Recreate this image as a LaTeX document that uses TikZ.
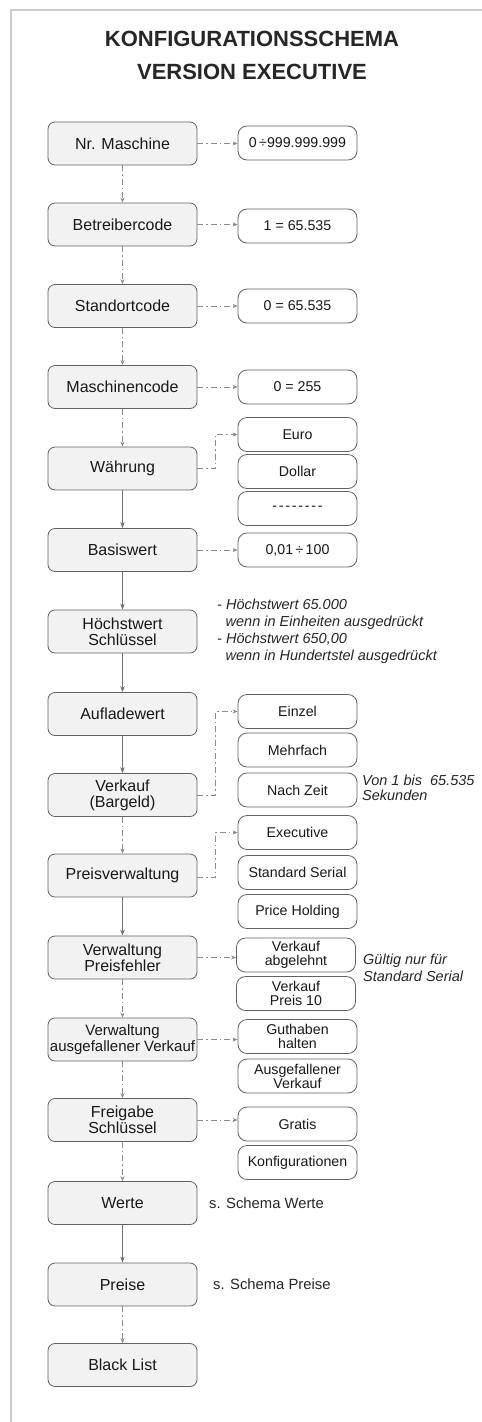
\documentclass[tikz,border=0pt]{standalone}
\usepackage{fontspec}
\setmainfont{Liberation Sans}
\usetikzlibrary{arrows.meta}
\newcommand{\hy}{-\kern1.8pt}
\begin{document}
\begin{tikzpicture}[x=1pt,y=-1pt,
  mainbox/.style={draw=black!62, line width=0.8pt, fill=black!5, rounded corners=7pt,
    minimum width=149pt, minimum height=43pt, inner sep=1pt, align=center,
    font=\fontsize{16}{16}\selectfont, text=black!90},
  optbox/.style={draw=black!62, line width=0.8pt, fill=white, rounded corners=9pt,
    minimum width=119pt, minimum height=34pt, inner sep=1pt, align=center,
    font=\fontsize{14.2}{14}\selectfont, text=black!90},
  note/.style={anchor=west, align=left, inner sep=0pt, text=black!85},
  dl/.style={draw=black!45, line width=0.8pt, dash pattern=on 6pt off 3pt on 1.5pt off 3pt,
    -{Stealth[length=5pt,width=4pt,fill=black!85]}},
  sl/.style={draw=black!55, line width=0.8pt,
    -{Stealth[length=6pt,width=4.5pt,fill=black!85]}}
]
\useasboundingbox (0,0) rectangle (482,1422);
\draw[black!20, line width=1.3pt] (11,1422) -- (11,10) -- (482,10);

\node[font=\bfseries\fontsize{22}{22}\selectfont, text=black!85] (t1) at (252,39) {KONFIGURATIONSSCHEMA};
\node[font=\bfseries\fontsize{22}{22}\selectfont, text=black!85] (t2) at (252,72) {VERSION EXECUTIVE};

% main column
\node[mainbox] (m1) at (122.5,143.5) {Nr. Maschine};
\node[mainbox] (m2) at (122.5,224.5) {Betreibercode};
\node[mainbox] (m3) at (122.5,306) {Standortcode};
\node[mainbox] (m4) at (122.5,387) {Maschinencode};
\node[mainbox] (m5) at (122.5,468.5) {Währung};
\node[mainbox] (m6) at (122.5,550) {Basiswert};
\node[mainbox] (m7) at (122.5,631.5) {Höchstwert\\Schlüssel};
\node[mainbox] (m8) at (122.5,714) {Aufladewert};
\node[mainbox] (m9) at (122.5,795) {Verkauf\\(Bargeld)};
\node[mainbox] (m10) at (122.5,875.5) {Preisverwaltung};
\node[mainbox] (m11) at (122.5,957.5) {Verwaltung\\Preisfehler};
\node[mainbox, font=\fontsize{15}{16}\selectfont, inner xsep=0pt] (m12) at (122.5,1039.5) {Verwaltung\\ausgefallener Verkauf};
\node[mainbox] (m13) at (122.5,1120) {Freigabe\\Schlüssel};
\node[mainbox] (m14) at (122.5,1203) {Werte};
\node[mainbox] (m15) at (122.5,1284.5) {Preise};
\node[mainbox] (m16) at (122.5,1365) {Black List};

% option column
\node[optbox] (o1) at (297.5,143) {0\,÷999.999.999};
\node[optbox] (o2) at (297.5,226) {1 = 65.535};
\node[optbox] (o3) at (297.5,306) {0 = 65.535};
\node[optbox] (o4) at (297.5,387) {0 = 255};
\node[optbox] (o5a) at (297.5,434.5) {Euro};
\node[optbox] (o5b) at (297.5,471.5) {Dollar};
\node[optbox] (o5c) at (297.5,508.5) {\hy\hy\hy\hy\hy\hy\hy-};
\node[optbox] (o6) at (297.5,550) {0,01\,÷\,100};
\node[optbox] (o9a) at (297.5,711.5) {Einzel};
\node[optbox] (o9b) at (297.5,750) {Mehrfach};
\node[optbox] (o9c) at (297.5,790) {Nach Zeit};
\node[optbox] (o10a) at (297.5,832.5) {Executive};
\node[optbox] (o10b) at (297.5,872.5) {Standard Serial};
\node[optbox] (o10c) at (297.5,911.5) {Price Holding};
\node[optbox] (o11a) at (296,955) {Verkauf\\abgelehnt};
\node[optbox] (o11b) at (296,993.5) {Verkauf\\Preis 10};
\node[optbox] (o12a) at (297.5,1036.5) {Guthaben\\halten};
\node[optbox] (o12b) at (297.5,1076) {Ausgefallener\\Verkauf};
\node[optbox] (o13a) at (297.5,1124) {Gratis};
\node[optbox] (o13b) at (297.5,1162.5) {Konfigurationen};

% notes
\node[note, font=\itshape\fontsize{14.5}{17}\selectfont] (n7) at (217,631.5)
  {- Höchstwert 65.000\\\hspace*{8.5pt}wenn in Einheiten ausgedrückt\\- Höchstwert 650,00\\\hspace*{8.5pt}wenn in Hundertstel ausgedrückt};
\node[note, font=\itshape\fontsize{14.5}{14.5}\selectfont] (n9) at (362,788) {Von 1 bis\ \ 65.535\\Sekunden};
\node[note, font=\itshape\fontsize{14.5}{16.5}\selectfont] (n11) at (363,968) {Gültig nur für\\Standard Serial};
\node[note, font=\fontsize{14.8}{16}\selectfont] (n14) at (209,1203) {s. Schema Werte};
\node[note, font=\fontsize{14.8}{16}\selectfont] (n15) at (213,1284) {s. Schema Preise};

% vertical connectors
\draw[dl] (m1.south) -- (m2.north);
\draw[dl] (m2.south) -- (m3.north);
\draw[dl] (m3.south) -- (m4.north);
\draw[dl] (m4.south) -- (m5.north);
\draw[sl] (m5.south) -- (m6.north);
\draw[sl] (m6.south) -- (m7.north);
\draw[sl] (m7.south) -- (m8.north);
\draw[sl] (m8.south) -- (m9.north);
\draw[dl] (m9.south) -- (m10.north);
\draw[sl] (m10.south) -- (m11.north);
\draw[dl] (m11.south) -- (m12.north);
\draw[dl] (m12.south) -- (m13.north);
\draw[dl] (m13.south) -- (m14.north);
\draw[sl] (m14.south) -- (m15.north);
\draw[dl] (m15.south) -- (m16.north);

% horizontal connectors
\draw[dl] (m1.east) -- (m1.east -| o1.west);
\draw[dl] (m2.east) -- (m2.east -| o2.west);
\draw[dl] (m3.east) -- (m3.east -| o3.west);
\draw[dl] (m4.east) -- (m4.east -| o4.west);
\draw[dl] (m6.east) -- (m6.east -| o6.west);
\draw[dl] (m11.east) -- (m11.east -| o11a.west);
\draw[dl] (m12.east) -- (m12.east -| o12a.west);
\draw[dl] (m13.east) -- (m13.east -| o13a.west);

% elbow connectors
\draw[dl] (m5.east) -- ++(18,0) |- (o5a.west);
\draw[dl] (m9.east) -- ++(18,0) |- (o9a.west);
\draw[dl] ([yshift=-2pt]m10.east) -- ++(18,0) |- (o10a.west);
\end{tikzpicture}
\end{document}
